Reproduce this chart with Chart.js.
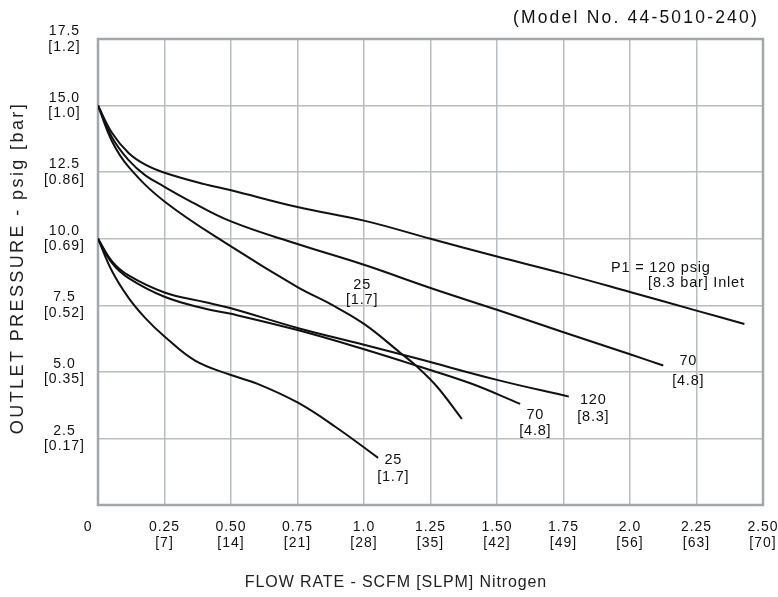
<!DOCTYPE html>
<html>
<head>
<meta charset="utf-8">
<script src="https://cdn.jsdelivr.net/npm/chart.js@4.4.0/dist/chart.umd.min.js"></script>
<style>
  html, body { margin: 0; padding: 0; background: #fff; }
</style>
</head>
<body>
<canvas id="chart" width="778" height="597"></canvas>
<script>
// tick labels
const flowTicks = ['0', '0.25', '0.50', '0.75', '1.0', '1.25', '1.50', '1.75', '2.0', '2.25', '2.50'];
const slpmTicks = ['', '[7]', '[14]', '[21]', '[28]', '[35]', '[42]', '[49]', '[56]', '[63]', '[70]'];
const psigTicks = ['', '2.5', '5.0', '7.5', '10.0', '12.5', '15.0', '17.5'];
const barTicks = ['', '[0.17]', '[0.35]', '[0.52]', '[0.69]', '[0.86]', '[1.0]', '[1.2]'];

// 15 psig set point, inlet 120 / 70 / 25 psig
const flow120a = [0, 0.053, 0.115, 0.178, 0.25, 0.4, 0.5, 0.75, 1.0, 1.25, 1.5, 1.75, 2.0, 2.25, 2.43];
const press120a = [15, 13.97, 13.22, 12.78, 12.48, 12.05, 11.82, 11.19, 10.68, 10.0, 9.33, 8.69, 8.0, 7.3, 6.8];
const flow70a = [0, 0.053, 0.115, 0.178, 0.25, 0.33, 0.5, 0.75, 1.0, 1.25, 1.5, 1.75, 2.0, 2.125];
const press70a = [15, 13.8, 12.95, 12.38, 11.95, 11.5, 10.65, 9.8, 9.02, 8.15, 7.33, 6.49, 5.66, 5.24];
const flow25a = [0, 0.053, 0.115, 0.25, 0.5, 0.75, 0.873, 1.0, 1.136, 1.199, 1.274, 1.368];
const press25a = [15, 13.65, 12.7, 11.4, 9.71, 8.18, 7.55, 6.8, 5.72, 5.2, 4.45, 3.23];

// 10 psig set point, inlet 120 / 70 / 25 psig
const flow120b = [0, 0.053, 0.115, 0.25, 0.4, 0.5, 0.75, 1.0, 1.211, 1.5, 1.77];
const press120b = [10, 9.15, 8.62, 7.98, 7.62, 7.39, 6.65, 6.02, 5.47, 4.7, 4.07];
const flow70b = [0, 0.053, 0.115, 0.25, 0.4, 0.5, 0.75, 1.0, 1.211, 1.4, 1.587];
const press70b = [10, 9.08, 8.52, 7.82, 7.38, 7.18, 6.57, 5.85, 5.19, 4.57, 3.8];
const flow25b = [0, 0.053, 0.115, 0.178, 0.25, 0.365, 0.5, 0.6, 0.75, 0.892, 1.053];
const press25b = [10, 8.78, 7.78, 7.02, 6.33, 5.42, 4.88, 4.55, 3.85, 2.94, 1.77];

// curve notes, anchored in data units
const curveNotes = [
    { text: 'P1 = 120 psig', x: 1.929, y: 8.91, align: 'left' },
    { text: '[8.3 bar] Inlet', x: 2.068, y: 8.35, align: 'left' },
    { text: '70', x: 2.219, y: 5.39 }, { text: '[4.8]', x: 2.219, y: 4.64 },
    { text: '120', x: 1.862, y: 3.95 }, { text: '[8.3]', x: 1.862, y: 3.32 },
    { text: '70', x: 1.644, y: 3.38 }, { text: '[4.8]', x: 1.644, y: 2.78 },
    { text: '25', x: 0.993, y: 8.27 }, { text: '[1.7]', x: 0.993, y: 7.71 },
    { text: '25', x: 1.11, y: 1.69 }, { text: '[1.7]', x: 1.11, y: 1.05 }
];

const FONT = 'Liberation Sans, Arial, sans-serif';

function pts(xs, ys) {
    return xs.map((x, i) => ({ x: x, y: ys[i] }));
}

function curve(xs, ys) {
    return {
        data: pts(xs, ys),
        showLine: true,
        borderColor: '#111',
        borderWidth: 2,
        pointRadius: 0,
        tension: 0.4,
        fill: false
    };
}

const decorations = {
    id: 'decorations',
    beforeLayout(chart) { chart.ctx.letterSpacing = '1px'; },
    beforeDraw(chart) {
        const ctx = chart.ctx;
        ctx.save();
        ctx.fillStyle = '#fff';
        ctx.fillRect(0, 0, chart.width, chart.height);
        ctx.restore();
        ctx.letterSpacing = '1px';
    },
    beforeDatasetsDraw(chart) {
        const { ctx, chartArea: a } = chart;
        ctx.save();
        ctx.strokeStyle = '#a3a6ab';
        ctx.lineWidth = 2.5;
        ctx.strokeRect(a.left, a.top, a.right - a.left, a.bottom - a.top);
        ctx.restore();
    },
    afterDraw(chart) {
        const { ctx, scales: { x, y } } = chart;
        ctx.save();
        ctx.fillStyle = '#111';
        ctx.textBaseline = 'middle';

        ctx.font = '14.5px ' + FONT;
        ctx.letterSpacing = '0.8px';
        curveNotes.forEach(n => {
            ctx.textAlign = n.align || 'center';
            ctx.fillText(n.text, x.getPixelForValue(n.x), y.getPixelForValue(n.y));
        });

        ctx.font = '17.5px ' + FONT;
        ctx.letterSpacing = '2.2px';
        ctx.textAlign = 'right';
        ctx.fillText('(Model No. 44-5010-240)', 759, 18);

        ctx.font = '16px ' + FONT;
        ctx.letterSpacing = '0.9px';
        ctx.textAlign = 'center';
        ctx.fillStyle = '#222';
        ctx.fillText('FLOW RATE - SCFM [SLPM] Nitrogen', 396, 583);

        ctx.translate(18, 268);
        ctx.rotate(-Math.PI / 2);
        ctx.font = '18px ' + FONT;
        ctx.letterSpacing = '2.4px';
        ctx.fillText('OUTLET PRESSURE - psig [bar]', 0, 0);
        ctx.restore();
    }
};

new Chart(document.getElementById('chart'), {
    type: 'scatter',
    data: {
        datasets: [
            curve(flow120a, press120a),
            curve(flow70a, press70a),
            curve(flow25a, press25a),
            curve(flow120b, press120b),
            curve(flow70b, press70b),
            curve(flow25b, press25b)
        ]
    },
    options: {
        responsive: false,
        animation: false,
        devicePixelRatio: 1,
        layout: { padding: { top: 39, right: 0, left: 0, bottom: 0 } },
        plugins: { legend: { display: false }, tooltip: { enabled: false } },
        scales: {
            x: {
                type: 'linear',
                min: 0,
                max: 2.5,
                border: { display: false },
                grid: { color: '#b9bcc1', lineWidth: 1.5, drawTicks: false },
                ticks: {
                    stepSize: 0.25,
                    padding: 14,
                    maxRotation: 0,
                    autoSkip: false,
                    color: '#111',
                    font: { family: FONT, size: 14, lineHeight: 1.15 },
                    callback: (v, i) => i === 0 ? flowTicks[0] + '    ' : [flowTicks[i], slpmTicks[i]]
                },
                afterFit(s) { s.height = 92; s.paddingLeft = 0; s.paddingRight = 15; }
            },
            y: {
                type: 'linear',
                min: 0,
                max: 17.5,
                border: { display: false },
                grid: { color: '#b9bcc1', lineWidth: 1.5, drawTicks: false },
                ticks: {
                    stepSize: 2.5,
                    padding: 13,
                    crossAlign: 'center',
                    autoSkip: false,
                    color: '#111',
                    font: { family: FONT, size: 14, lineHeight: 1.1 },
                    callback: (v, i) => i === 0 ? '' : [psigTicks[i], barTicks[i]]
                },
                afterFit(s) { s.width = 98; }
            }
        }
    },
    plugins: [decorations]
});
</script>
</body>
</html>
